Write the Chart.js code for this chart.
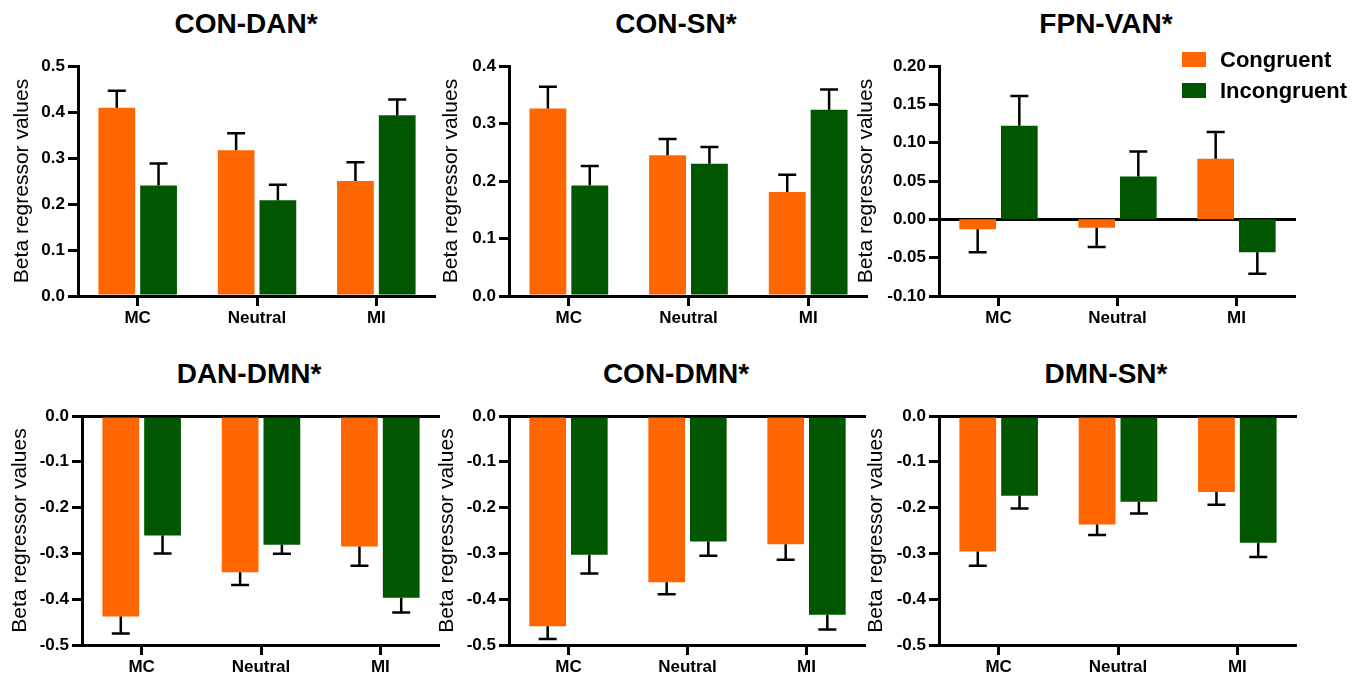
<!DOCTYPE html>
<html>
<head>
<meta charset="utf-8">
<script src="https://cdn.jsdelivr.net/npm/chart.js@4.4.1/dist/chart.umd.min.js"></script>
<style>
body { margin: 0; background: #fff; }
#wrap { position: relative; width: 1365px; height: 678px; overflow: hidden; font-family: 'Liberation Sans', Arial, sans-serif; }
canvas { position: absolute; }
.title { position: absolute; font-weight: bold; font-size: 28px; line-height: 28px; transform: translateX(-50%); white-space: nowrap; color: #000; }
#legend { position: absolute; left: 1182px; top: 52px; }
.row { display: flex; align-items: center; height: 15px; margin-bottom: 16px; }
.box { width: 24px; height: 15px; margin-right: 14px; }
.lab { font-weight: bold; font-size: 22px; color: #000; white-space: nowrap; }
</style>
</head>
<body>
<div id="wrap"></div>
<script>
const categories = ['MC', 'Neutral', 'MI'];
const seriesNames = ['Congruent', 'Incongruent'];
const panelTitles = ['CON-DAN*', 'CON-SN*', 'FPN-VAN*', 'DAN-DMN*', 'CON-DMN*', 'DMN-SN*'];

// means per panel: [MC, Neutral, MI]
const congruentMeans = [
    [0.409, 0.317, 0.250],
    [0.326, 0.245, 0.181],
    [-0.013, -0.011, 0.079],
    [-0.438, -0.341, -0.285],
    [-0.459, -0.363, -0.280],
    [-0.296, -0.237, -0.166]
];
const incongruentMeans = [
    [0.240, 0.208, 0.393],
    [0.192, 0.230, 0.324],
    [0.122, 0.056, -0.043],
    [-0.261, -0.281, -0.397],
    [-0.303, -0.274, -0.434],
    [-0.174, -0.187, -0.277]
];
// error bar lengths (SEM)
const congruentSem = [
    [0.037, 0.037, 0.041],
    [0.038, 0.028, 0.030],
    [0.030, 0.025, 0.035],
    [0.037, 0.028, 0.042],
    [0.028, 0.026, 0.034],
    [0.031, 0.023, 0.028]
];
const incongruentSem = [
    [0.048, 0.034, 0.034],
    [0.034, 0.029, 0.035],
    [0.039, 0.0325, 0.028],
    [0.039, 0.020, 0.032],
    [0.041, 0.031, 0.032],
    [0.028, 0.026, 0.031]
];
const yMin = [0, 0, -0.1, -0.5, -0.5, -0.5];
const yMax = [0.5, 0.4, 0.2, 0, 0, 0];
const yStep = [0.1, 0.1, 0.05, 0.1, 0.1, 0.1];
const tickDigits = [1, 1, 2, 1, 1, 1];

const colors = ['#FF6600', '#005700'];
const FONT = "'Liberation Sans', Arial, sans-serif";

// placement of each panel: canvas left/top/size, y axis width, bottom axis height, title centre
const layout = [
    { left: 10, top: 0, w: 426, h: 339, yw: 68, padTop: 66, xh: 43, tx: 246, ty: 10 },
    { left: 439, top: 0, w: 429, h: 339, yw: 70, padTop: 66, xh: 43, tx: 676, ty: 10 },
    { left: 854, top: 0, w: 442, h: 339, yw: 85, padTop: 66, xh: 43, tx: 1106, ty: 10 },
    { left: 8, top: 339, w: 432, h: 339, yw: 74, padTop: 77, xh: 33, tx: 249, ty: 360 },
    { left: 435, top: 339, w: 431, h: 339, yw: 74, padTop: 77, xh: 33, tx: 676, ty: 360 },
    { left: 864, top: 339, w: 433, h: 339, yw: 75, padTop: 77, xh: 33, tx: 1106, ty: 360 }
];

const errorBars = {
    id: 'errorBars',
    afterDatasetsDraw(chart) {
        const ctx = chart.ctx;
        const yScale = chart.scales.y;
        ctx.save();
        ctx.strokeStyle = '#000';
        ctx.lineWidth = 2.5;
        chart.data.datasets.forEach((ds, i) => {
            const meta = chart.getDatasetMeta(i);
            meta.data.forEach((bar, j) => {
                const v = ds.data[j];
                const e = ds.sem[j];
                const end = v >= 0 ? v + e : v - e;
                const y1 = yScale.getPixelForValue(end);
                ctx.beginPath();
                ctx.moveTo(bar.x, bar.y);
                ctx.lineTo(bar.x, y1);
                ctx.moveTo(bar.x - 9, y1);
                ctx.lineTo(bar.x + 9, y1);
                ctx.stroke();
            });
        });
        ctx.restore();
    }
};

const wrap = document.getElementById('wrap');
const charts = [];

for (let p = 0; p < 6; p++) {
    const L = layout[p];
    const title = document.createElement('div');
    title.className = 'title';
    title.style.left = L.tx + 'px';
    title.style.top = L.ty + 'px';
    title.textContent = panelTitles[p];
    wrap.appendChild(title);

    const canvas = document.createElement('canvas');
    canvas.width = L.w;
    canvas.height = L.h;
    canvas.style.left = L.left + 'px';
    canvas.style.top = L.top + 'px';
    wrap.appendChild(canvas);

    const digits = tickDigits[p];
    const chart = new Chart(canvas.getContext('2d'), {
        type: 'bar',
        data: {
            labels: categories,
            datasets: [
                { label: seriesNames[0], data: congruentMeans[p], sem: congruentSem[p], backgroundColor: colors[0] },
                { label: seriesNames[1], data: incongruentMeans[p], sem: incongruentSem[p], backgroundColor: colors[1] }
            ]
        },
        options: {
            responsive: false,
            animation: false,
            devicePixelRatio: 1,
            categoryPercentage: 0.7,
            barPercentage: 0.88,
            layout: { padding: { top: L.padTop, left: 0, right: 0, bottom: 0 } },
            plugins: {
                legend: { display: false },
                tooltip: { enabled: false },
                title: { display: false }
            },
            scales: {
                x: {
                    z: 1,
                    border: { color: '#000', width: 3 },
                    grid: { offset: false, drawOnChartArea: false, color: '#000', tickLength: 10, lineWidth: 3 },
                    ticks: { color: '#000', padding: 2, font: { family: FONT, size: 17, weight: 'bold' } },
                    afterFit: (s) => { s.height = L.xh; }
                },
                y: {
                    z: 1,
                    min: yMin[p],
                    max: yMax[p],
                    border: { color: '#000', width: 3 },
                    grid: {
                        color: (c) => (c.tick && Math.abs(c.tick.value) < 1e-9) ? '#000' : 'rgba(0,0,0,0)',
                        tickColor: '#000',
                        tickLength: 10,
                        lineWidth: 3
                    },
                    ticks: {
                        stepSize: yStep[p],
                        color: '#000',
                        padding: 3,
                        font: { family: FONT, size: 17, weight: 'bold' },
                        callback: (v) => Number(v).toFixed(digits)
                    },
                    title: {
                        display: true,
                        text: 'Beta regressor values',
                        color: '#000',
                        padding: { top: 0, bottom: 0 },
                        font: { family: FONT, size: 21 }
                    },
                    afterFit: (s) => { s.width = L.yw; }
                }
            }
        },
        plugins: [errorBars]
    });
    charts.push(chart);
}

// legend built from the FPN-VAN chart datasets
const legend = document.createElement('div');
legend.id = 'legend';
charts[2].data.datasets.forEach(ds => {
    const row = document.createElement('div');
    row.className = 'row';
    const box = document.createElement('div');
    box.className = 'box';
    box.style.background = ds.backgroundColor;
    const lab = document.createElement('div');
    lab.className = 'lab';
    lab.textContent = ds.label;
    row.appendChild(box);
    row.appendChild(lab);
    legend.appendChild(row);
});
wrap.appendChild(legend);
</script>
</body>
</html>
